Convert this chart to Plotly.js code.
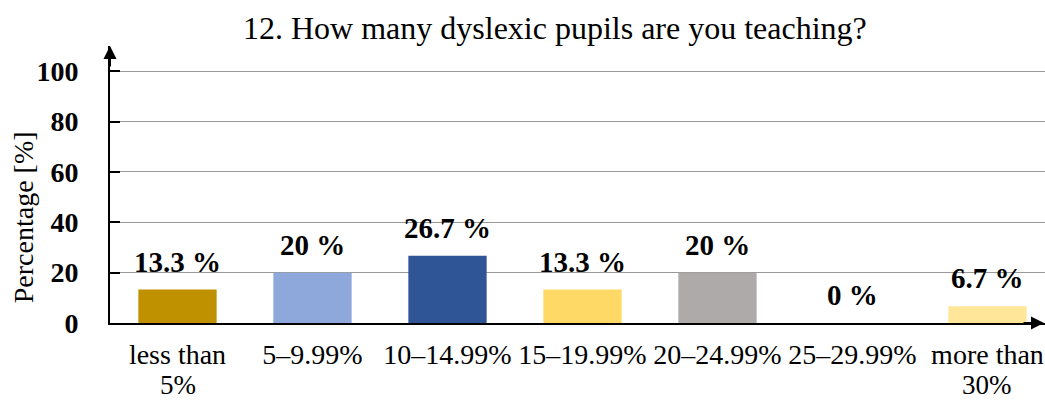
<!DOCTYPE html>
<html>
<head>
<meta charset="utf-8">
<script src="https://cdn.plot.ly/plotly-3.0.1.min.js"></script>
<style>html,body{margin:0;padding:0;background:#fff;}#chart{width:1045px;height:403px;}</style>
</head>
<body>
<div id="chart"></div>
<script>
const categories = ["less than 5%", "5–9.99%", "10–14.99%", "15–19.99%", "20–24.99%", "25–29.99%", "more than 30%"];
const tickLine1 = ["less than", "5–9.99%", "10–14.99%", "15–19.99%", "20–24.99%", "25–29.99%", "more than"];
const tickLine2 = ["5%", "", "", "", "", "", "30%"];
const values = [13.3, 20, 26.7, 13.3, 20, 0, 6.7];
const valueLabels = ["13.3 %", "20 %", "26.7 %", "13.3 %", "20 %", "0 %", "6.7 %"];
const barColors = ["#BF9000", "#8FA8DC", "#2F5597", "#FFD966", "#AEAAAA", "#FFFFFF", "#FFE699"];
const yTicks = [0, 20, 40, 60, 80, 100];

const serif = "Liberation Serif, Times New Roman, serif";

const trace = {
  type: "bar",
  x: categories,
  y: values,
  width: 0.58,
  marker: { color: barColors, line: { width: 0 } },
  hoverinfo: "none",
  cliponaxis: false
};

const annotations = categories.map((c, i) => ({
  x: c, y: values[i], xref: "x", yref: "y",
  text: "<b>" + valueLabels[i] + "</b>",
  showarrow: false, yanchor: "bottom", yshift: 10,
  font: { family: serif, size: 29, color: "#000" }
}));

// second lines of the wrapped category labels
categories.forEach((c, i) => {
  if (tickLine2[i]) {
    annotations.push({
      x: c, xref: "x", yref: "paper", y: 0,
      text: tickLine2[i], showarrow: false, borderpad: 0,
      xanchor: "center", yanchor: "top", yshift: -46,
      font: { family: serif, size: 27, color: "#000" }
    });
  }
});

// y axis title (placed lower than plot centre, as in the reference)
annotations.push({
  xref: "paper", yref: "paper", x: -0.0925, y: 0.38,
  xanchor: "center", yanchor: "middle", textangle: -90, showarrow: false,
  text: "Percentage [%]",
  font: { family: serif, size: 28, color: "#000" }
});

// axis arrows
annotations.push({
  xref: "paper", yref: "paper", x: 0, y: 1.0, ax: 0, ay: 22,
  showarrow: true, arrowhead: 2, arrowsize: 1.3, arrowwidth: 2, arrowcolor: "#000", text: ""
});
annotations.push({
  xref: "paper", yref: "paper", x: 0.999, y: 0, ax: -22, ay: 0,
  showarrow: true, arrowhead: 2, arrowsize: 1.3, arrowwidth: 2, arrowcolor: "#000", text: ""
});

const layout = {
  width: 1045, height: 403,
  margin: { l: 110, r: 0, t: 46, b: 80 },
  paper_bgcolor: "#fff", plot_bgcolor: "#fff",
  showlegend: false,
  title: {
    text: "12. How many dyslexic pupils are you teaching?",
    font: { family: serif, size: 32, color: "#000" },
    x: 0.531, xanchor: "center", y: 0.93, yanchor: "middle"
  },
  xaxis: {
    range: [-0.5, 6.426],
    tickvals: categories,
    ticktext: tickLine1,
    showline: true, linecolor: "#000", linewidth: 2,
    showgrid: false, zeroline: false, ticks: "",
    tickfont: { family: serif, size: 28, color: "#000" },
    ticklabelstandoff: 5,
    fixedrange: true
  },
  yaxis: {
    range: [0, 110],
    tickvals: yTicks,
    ticktext: yTicks.map(v => "<b>" + v + "</b>"),
    showline: true, linecolor: "#000", linewidth: 2,
    showgrid: true, gridcolor: "#999", gridwidth: 1,
    zeroline: false,
    ticks: "inside", ticklen: 10, tickwidth: 2, tickcolor: "#000",
    tickfont: { family: serif, size: 28, color: "#000" },
    ticklabelstandoff: 24,
    fixedrange: true
  },
  annotations: annotations,
  bargap: 0.42
};

Plotly.newPlot("chart", [trace], layout, { displayModeBar: false, staticPlot: true });
</script>
</body>
</html>
